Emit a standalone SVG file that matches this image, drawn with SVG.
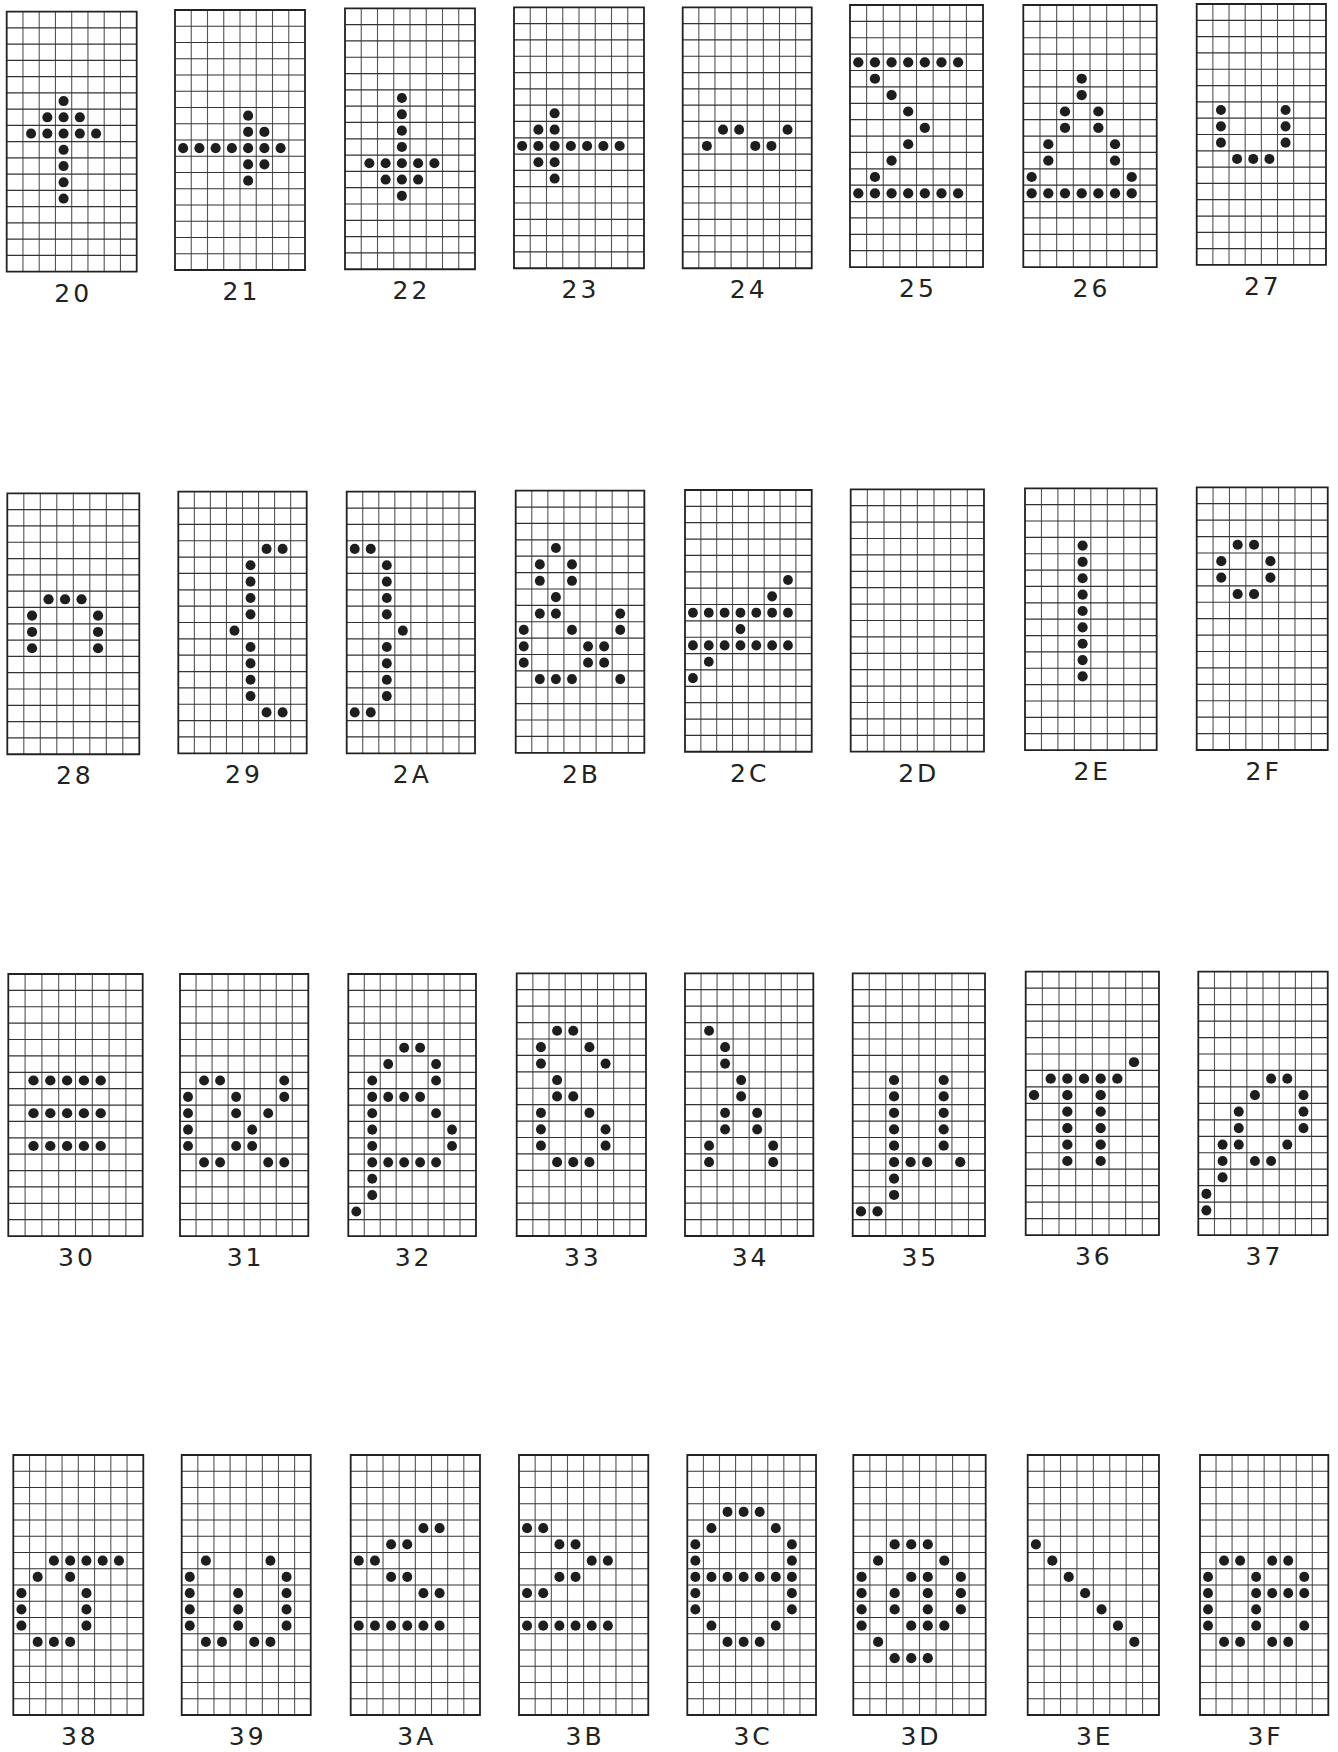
<svg xmlns="http://www.w3.org/2000/svg" xmlns:xlink="http://www.w3.org/1999/xlink" width="1338" height="1752" viewBox="0 0 1338 1752">
<style>
.lb{font-family:"DejaVu Sans","Liberation Sans",sans-serif;font-size:25px;text-anchor:middle;fill:#222;letter-spacing:3px}
.dt circle{fill:#1e1e1e}
</style>
<defs>
<g id="grid" fill="none">
<path d="M1 0V16M2 0V16M3 0V16M4 0V16M5 0V16M6 0V16M7 0V16" stroke="#555" stroke-width="1.1" vector-effect="non-scaling-stroke"/>
<path d="M0 1H8M0 2H8M0 3H8M0 4H8M0 5H8M0 6H8M0 7H8M0 8H8M0 9H8M0 10H8M0 11H8M0 12H8M0 13H8M0 14H8M0 15H8" stroke="#333" stroke-width="1.2" vector-effect="non-scaling-stroke"/>
<rect width="8" height="16" stroke="#222" stroke-width="1.8" vector-effect="non-scaling-stroke"/>
</g>
</defs>
<rect width="1338" height="1752" fill="#fff"/>
<g id="connectors"></g>

<g id="c20"><g class="dt" transform="translate(6.7,11.7) scale(16.25,16.25)"><use href="#grid"/>
<circle cx="3.5" cy="5.5" r=".31"/><circle cx="2.5" cy="6.5" r=".31"/><circle cx="3.5" cy="6.5" r=".31"/><circle cx="4.5" cy="6.5" r=".31"/><circle cx="1.5" cy="7.5" r=".31"/><circle cx="2.5" cy="7.5" r=".31"/><circle cx="3.5" cy="7.5" r=".31"/><circle cx="4.5" cy="7.5" r=".31"/><circle cx="5.5" cy="7.5" r=".31"/><circle cx="3.5" cy="8.5" r=".31"/><circle cx="3.5" cy="9.5" r=".31"/><circle cx="3.5" cy="10.5" r=".31"/><circle cx="3.5" cy="11.5" r=".31"/>
</g><text class="lb" x="73.2" y="301.7">20</text></g>

<g id="c21"><g class="dt" transform="translate(175,10) scale(16.25,16.25)"><use href="#grid"/>
<circle cx="4.5" cy="6.5" r=".31"/><circle cx="4.5" cy="7.5" r=".31"/><circle cx="5.5" cy="7.5" r=".31"/><circle cx="0.5" cy="8.5" r=".31"/><circle cx="1.5" cy="8.5" r=".31"/><circle cx="2.5" cy="8.5" r=".31"/><circle cx="3.5" cy="8.5" r=".31"/><circle cx="4.5" cy="8.5" r=".31"/><circle cx="5.5" cy="8.5" r=".31"/><circle cx="6.5" cy="8.5" r=".31"/><circle cx="4.5" cy="9.5" r=".31"/><circle cx="5.5" cy="9.5" r=".31"/><circle cx="4.5" cy="10.5" r=".31"/>
</g><text class="lb" x="241.5" y="300">21</text></g>

<g id="c22"><g class="dt" transform="translate(345,8.3) scale(16.25,16.31)"><use href="#grid"/>
<circle cx="3.5" cy="5.5" r=".31"/><circle cx="3.5" cy="6.5" r=".31"/><circle cx="3.5" cy="7.5" r=".31"/><circle cx="3.5" cy="8.5" r=".31"/><circle cx="1.5" cy="9.5" r=".31"/><circle cx="2.5" cy="9.5" r=".31"/><circle cx="3.5" cy="9.5" r=".31"/><circle cx="4.5" cy="9.5" r=".31"/><circle cx="5.5" cy="9.5" r=".31"/><circle cx="2.5" cy="10.5" r=".31"/><circle cx="3.5" cy="10.5" r=".31"/><circle cx="4.5" cy="10.5" r=".31"/><circle cx="3.5" cy="11.5" r=".31"/>
</g><text class="lb" x="411.5" y="299.3">22</text></g>

<g id="c23"><g class="dt" transform="translate(514,7.3) scale(16.25,16.31)"><use href="#grid"/>
<circle cx="2.5" cy="6.5" r=".31"/><circle cx="1.5" cy="7.5" r=".31"/><circle cx="2.5" cy="7.5" r=".31"/><circle cx="0.5" cy="8.5" r=".31"/><circle cx="1.5" cy="8.5" r=".31"/><circle cx="2.5" cy="8.5" r=".31"/><circle cx="3.5" cy="8.5" r=".31"/><circle cx="4.5" cy="8.5" r=".31"/><circle cx="5.5" cy="8.5" r=".31"/><circle cx="6.5" cy="8.5" r=".31"/><circle cx="1.5" cy="9.5" r=".31"/><circle cx="2.5" cy="9.5" r=".31"/><circle cx="2.5" cy="10.5" r=".31"/>
</g><text class="lb" x="580.5" y="298.3">23</text></g>

<g id="c24"><g class="dt" transform="translate(682.7,7.3) scale(16.13,16.31)"><use href="#grid"/>
<circle cx="2.5" cy="7.5" r=".31"/><circle cx="3.5" cy="7.5" r=".31"/><circle cx="6.5" cy="7.5" r=".31"/><circle cx="1.5" cy="8.5" r=".31"/><circle cx="4.5" cy="8.5" r=".31"/><circle cx="5.5" cy="8.5" r=".31"/>
</g><text class="lb" x="748.7" y="298.3">24</text></g>

<g id="c25"><g class="dt" transform="translate(850,5) scale(16.63,16.38)"><use href="#grid"/>
<circle cx="0.5" cy="3.5" r=".31"/><circle cx="1.5" cy="3.5" r=".31"/><circle cx="2.5" cy="3.5" r=".31"/><circle cx="3.5" cy="3.5" r=".31"/><circle cx="4.5" cy="3.5" r=".31"/><circle cx="5.5" cy="3.5" r=".31"/><circle cx="6.5" cy="3.5" r=".31"/><circle cx="1.5" cy="4.5" r=".31"/><circle cx="2.5" cy="5.5" r=".31"/><circle cx="3.5" cy="6.5" r=".31"/><circle cx="4.5" cy="7.5" r=".31"/><circle cx="3.5" cy="8.5" r=".31"/><circle cx="2.5" cy="9.5" r=".31"/><circle cx="1.5" cy="10.5" r=".31"/><circle cx="0.5" cy="11.5" r=".31"/><circle cx="1.5" cy="11.5" r=".31"/><circle cx="2.5" cy="11.5" r=".31"/><circle cx="3.5" cy="11.5" r=".31"/><circle cx="4.5" cy="11.5" r=".31"/><circle cx="5.5" cy="11.5" r=".31"/><circle cx="6.5" cy="11.5" r=".31"/>
</g><text class="lb" x="918" y="297">25</text></g>

<g id="c26"><g class="dt" transform="translate(1023.3,5) scale(16.68,16.38)"><use href="#grid"/>
<circle cx="3.5" cy="4.5" r=".31"/><circle cx="3.5" cy="5.5" r=".31"/><circle cx="2.5" cy="6.5" r=".31"/><circle cx="4.5" cy="6.5" r=".31"/><circle cx="2.5" cy="7.5" r=".31"/><circle cx="4.5" cy="7.5" r=".31"/><circle cx="1.5" cy="8.5" r=".31"/><circle cx="5.5" cy="8.5" r=".31"/><circle cx="1.5" cy="9.5" r=".31"/><circle cx="5.5" cy="9.5" r=".31"/><circle cx="0.5" cy="10.5" r=".31"/><circle cx="6.5" cy="10.5" r=".31"/><circle cx="0.5" cy="11.5" r=".31"/><circle cx="1.5" cy="11.5" r=".31"/><circle cx="2.5" cy="11.5" r=".31"/><circle cx="3.5" cy="11.5" r=".31"/><circle cx="4.5" cy="11.5" r=".31"/><circle cx="5.5" cy="11.5" r=".31"/><circle cx="6.5" cy="11.5" r=".31"/>
</g><text class="lb" x="1091.5" y="297">26</text></g>

<g id="c27"><g class="dt" transform="translate(1196.7,4) scale(16.16,16.31)"><use href="#grid"/>
<circle cx="1.5" cy="6.5" r=".31"/><circle cx="5.5" cy="6.5" r=".31"/><circle cx="1.5" cy="7.5" r=".31"/><circle cx="5.5" cy="7.5" r=".31"/><circle cx="1.5" cy="8.5" r=".31"/><circle cx="5.5" cy="8.5" r=".31"/><circle cx="2.5" cy="9.5" r=".31"/><circle cx="3.5" cy="9.5" r=".31"/><circle cx="4.5" cy="9.5" r=".31"/>
</g><text class="lb" x="1262.8" y="295">27</text></g>

<g id="c28"><g class="dt" transform="translate(7.3,493.3) scale(16.5,16.31)"><use href="#grid"/>
<circle cx="2.5" cy="6.5" r=".31"/><circle cx="3.5" cy="6.5" r=".31"/><circle cx="4.5" cy="6.5" r=".31"/><circle cx="1.5" cy="7.5" r=".31"/><circle cx="5.5" cy="7.5" r=".31"/><circle cx="1.5" cy="8.5" r=".31"/><circle cx="5.5" cy="8.5" r=".31"/><circle cx="1.5" cy="9.5" r=".31"/><circle cx="5.5" cy="9.5" r=".31"/>
</g><text class="lb" x="74.8" y="784.3">28</text></g>

<g id="c29"><g class="dt" transform="translate(178.3,491.7) scale(16.05,16.35)"><use href="#grid"/>
<circle cx="5.5" cy="3.5" r=".31"/><circle cx="6.5" cy="3.5" r=".31"/><circle cx="4.5" cy="4.5" r=".31"/><circle cx="4.5" cy="5.5" r=".31"/><circle cx="4.5" cy="6.5" r=".31"/><circle cx="4.5" cy="7.5" r=".31"/><circle cx="3.5" cy="8.5" r=".31"/><circle cx="4.5" cy="9.5" r=".31"/><circle cx="4.5" cy="10.5" r=".31"/><circle cx="4.5" cy="11.5" r=".31"/><circle cx="4.5" cy="12.5" r=".31"/><circle cx="5.5" cy="13.5" r=".31"/><circle cx="6.5" cy="13.5" r=".31"/>
</g><text class="lb" x="244" y="783.3">29</text></g>

<g id="c2A"><g class="dt" transform="translate(346.7,491.7) scale(16.04,16.35)"><use href="#grid"/>
<circle cx="0.5" cy="3.5" r=".31"/><circle cx="1.5" cy="3.5" r=".31"/><circle cx="2.5" cy="4.5" r=".31"/><circle cx="2.5" cy="5.5" r=".31"/><circle cx="2.5" cy="6.5" r=".31"/><circle cx="2.5" cy="7.5" r=".31"/><circle cx="3.5" cy="8.5" r=".31"/><circle cx="2.5" cy="9.5" r=".31"/><circle cx="2.5" cy="10.5" r=".31"/><circle cx="2.5" cy="11.5" r=".31"/><circle cx="2.5" cy="12.5" r=".31"/><circle cx="0.5" cy="13.5" r=".31"/><circle cx="1.5" cy="13.5" r=".31"/>
</g><text class="lb" x="412.3" y="783.3">2A</text></g>

<g id="c2B"><g class="dt" transform="translate(515.7,490.7) scale(16.08,16.38)"><use href="#grid"/>
<circle cx="2.5" cy="3.5" r=".31"/><circle cx="1.5" cy="4.5" r=".31"/><circle cx="3.5" cy="4.5" r=".31"/><circle cx="1.5" cy="5.5" r=".31"/><circle cx="3.5" cy="5.5" r=".31"/><circle cx="2.5" cy="6.5" r=".31"/><circle cx="1.5" cy="7.5" r=".31"/><circle cx="2.5" cy="7.5" r=".31"/><circle cx="6.5" cy="7.5" r=".31"/><circle cx="0.5" cy="8.5" r=".31"/><circle cx="3.5" cy="8.5" r=".31"/><circle cx="6.5" cy="8.5" r=".31"/><circle cx="0.5" cy="9.5" r=".31"/><circle cx="4.5" cy="9.5" r=".31"/><circle cx="5.5" cy="9.5" r=".31"/><circle cx="0.5" cy="10.5" r=".31"/><circle cx="4.5" cy="10.5" r=".31"/><circle cx="5.5" cy="10.5" r=".31"/><circle cx="1.5" cy="11.5" r=".31"/><circle cx="2.5" cy="11.5" r=".31"/><circle cx="3.5" cy="11.5" r=".31"/><circle cx="6.5" cy="11.5" r=".31"/>
</g><text class="lb" x="581.5" y="782.7">2B</text></g>

<g id="c2C"><g class="dt" transform="translate(685,490) scale(15.84,16.36)"><use href="#grid"/>
<circle cx="6.5" cy="5.5" r=".31"/><circle cx="5.5" cy="6.5" r=".31"/><circle cx="0.5" cy="7.5" r=".31"/><circle cx="1.5" cy="7.5" r=".31"/><circle cx="2.5" cy="7.5" r=".31"/><circle cx="3.5" cy="7.5" r=".31"/><circle cx="4.5" cy="7.5" r=".31"/><circle cx="5.5" cy="7.5" r=".31"/><circle cx="6.5" cy="7.5" r=".31"/><circle cx="3.5" cy="8.5" r=".31"/><circle cx="0.5" cy="9.5" r=".31"/><circle cx="1.5" cy="9.5" r=".31"/><circle cx="2.5" cy="9.5" r=".31"/><circle cx="3.5" cy="9.5" r=".31"/><circle cx="4.5" cy="9.5" r=".31"/><circle cx="5.5" cy="9.5" r=".31"/><circle cx="6.5" cy="9.5" r=".31"/><circle cx="1.5" cy="10.5" r=".31"/><circle cx="0.5" cy="11.5" r=".31"/>
</g><text class="lb" x="749.8" y="781.7">2C</text></g>

<g id="c2D"><g class="dt" transform="translate(850.7,489.3) scale(16.66,16.4)"><use href="#grid"/>
</g><text class="lb" x="918.8" y="781.7">2D</text></g>

<g id="c2E"><g class="dt" transform="translate(1025,488.3) scale(16.46,16.36)"><use href="#grid"/>
<circle cx="3.5" cy="3.5" r=".31"/><circle cx="3.5" cy="4.5" r=".31"/><circle cx="3.5" cy="5.5" r=".31"/><circle cx="3.5" cy="6.5" r=".31"/><circle cx="3.5" cy="7.5" r=".31"/><circle cx="3.5" cy="8.5" r=".31"/><circle cx="3.5" cy="9.5" r=".31"/><circle cx="3.5" cy="10.5" r=".31"/><circle cx="3.5" cy="11.5" r=".31"/>
</g><text class="lb" x="1092.3" y="780">2E</text></g>

<g id="c2F"><g class="dt" transform="translate(1196.7,487.3) scale(16.38,16.42)"><use href="#grid"/>
<circle cx="2.5" cy="3.5" r=".31"/><circle cx="3.5" cy="3.5" r=".31"/><circle cx="1.5" cy="4.5" r=".31"/><circle cx="4.5" cy="4.5" r=".31"/><circle cx="1.5" cy="5.5" r=".31"/><circle cx="4.5" cy="5.5" r=".31"/><circle cx="2.5" cy="6.5" r=".31"/><circle cx="3.5" cy="6.5" r=".31"/>
</g><text class="lb" x="1263.7" y="780">2F</text></g>

<g id="c30"><g class="dt" transform="translate(8.3,974) scale(16.8,16.38)"><use href="#grid"/>
<circle cx="1.5" cy="6.5" r=".31"/><circle cx="2.5" cy="6.5" r=".31"/><circle cx="3.5" cy="6.5" r=".31"/><circle cx="4.5" cy="6.5" r=".31"/><circle cx="5.5" cy="6.5" r=".31"/><circle cx="1.5" cy="8.5" r=".31"/><circle cx="2.5" cy="8.5" r=".31"/><circle cx="3.5" cy="8.5" r=".31"/><circle cx="4.5" cy="8.5" r=".31"/><circle cx="5.5" cy="8.5" r=".31"/><circle cx="1.5" cy="10.5" r=".31"/><circle cx="2.5" cy="10.5" r=".31"/><circle cx="3.5" cy="10.5" r=".31"/><circle cx="4.5" cy="10.5" r=".31"/><circle cx="5.5" cy="10.5" r=".31"/>
</g><text class="lb" x="77" y="1266">30</text></g>

<g id="c31"><g class="dt" transform="translate(180,974) scale(16.04,16.38)"><use href="#grid"/>
<circle cx="1.5" cy="6.5" r=".31"/><circle cx="2.5" cy="6.5" r=".31"/><circle cx="6.5" cy="6.5" r=".31"/><circle cx="0.5" cy="7.5" r=".31"/><circle cx="3.5" cy="7.5" r=".31"/><circle cx="6.5" cy="7.5" r=".31"/><circle cx="0.5" cy="8.5" r=".31"/><circle cx="3.5" cy="8.5" r=".31"/><circle cx="5.5" cy="8.5" r=".31"/><circle cx="0.5" cy="9.5" r=".31"/><circle cx="4.5" cy="9.5" r=".31"/><circle cx="0.5" cy="10.5" r=".31"/><circle cx="3.5" cy="10.5" r=".31"/><circle cx="4.5" cy="10.5" r=".31"/><circle cx="1.5" cy="11.5" r=".31"/><circle cx="2.5" cy="11.5" r=".31"/><circle cx="5.5" cy="11.5" r=".31"/><circle cx="6.5" cy="11.5" r=".31"/>
</g><text class="lb" x="245.6" y="1266">31</text></g>

<g id="c32"><g class="dt" transform="translate(348.3,974) scale(15.96,16.38)"><use href="#grid"/>
<circle cx="3.5" cy="4.5" r=".31"/><circle cx="4.5" cy="4.5" r=".31"/><circle cx="2.5" cy="5.5" r=".31"/><circle cx="5.5" cy="5.5" r=".31"/><circle cx="1.5" cy="6.5" r=".31"/><circle cx="5.5" cy="6.5" r=".31"/><circle cx="1.5" cy="7.5" r=".31"/><circle cx="2.5" cy="7.5" r=".31"/><circle cx="3.5" cy="7.5" r=".31"/><circle cx="4.5" cy="7.5" r=".31"/><circle cx="1.5" cy="8.5" r=".31"/><circle cx="5.5" cy="8.5" r=".31"/><circle cx="1.5" cy="9.5" r=".31"/><circle cx="6.5" cy="9.5" r=".31"/><circle cx="1.5" cy="10.5" r=".31"/><circle cx="6.5" cy="10.5" r=".31"/><circle cx="1.5" cy="11.5" r=".31"/><circle cx="2.5" cy="11.5" r=".31"/><circle cx="3.5" cy="11.5" r=".31"/><circle cx="4.5" cy="11.5" r=".31"/><circle cx="5.5" cy="11.5" r=".31"/><circle cx="1.5" cy="12.5" r=".31"/><circle cx="1.5" cy="13.5" r=".31"/><circle cx="0.5" cy="14.5" r=".31"/>
</g><text class="lb" x="413.6" y="1266">32</text></g>

<g id="c33"><g class="dt" transform="translate(516.7,973.3) scale(16.16,16.42)"><use href="#grid"/>
<circle cx="2.5" cy="3.5" r=".31"/><circle cx="3.5" cy="3.5" r=".31"/><circle cx="1.5" cy="4.5" r=".31"/><circle cx="4.5" cy="4.5" r=".31"/><circle cx="1.5" cy="5.5" r=".31"/><circle cx="5.5" cy="5.5" r=".31"/><circle cx="2.5" cy="6.5" r=".31"/><circle cx="2.5" cy="7.5" r=".31"/><circle cx="3.5" cy="7.5" r=".31"/><circle cx="1.5" cy="8.5" r=".31"/><circle cx="4.5" cy="8.5" r=".31"/><circle cx="1.5" cy="9.5" r=".31"/><circle cx="5.5" cy="9.5" r=".31"/><circle cx="1.5" cy="10.5" r=".31"/><circle cx="5.5" cy="10.5" r=".31"/><circle cx="2.5" cy="11.5" r=".31"/><circle cx="3.5" cy="11.5" r=".31"/><circle cx="4.5" cy="11.5" r=".31"/>
</g><text class="lb" x="582.8" y="1266">33</text></g>

<g id="c34"><g class="dt" transform="translate(685,973.3) scale(16.04,16.42)"><use href="#grid"/>
<circle cx="1.5" cy="3.5" r=".31"/><circle cx="2.5" cy="4.5" r=".31"/><circle cx="2.5" cy="5.5" r=".31"/><circle cx="3.5" cy="6.5" r=".31"/><circle cx="3.5" cy="7.5" r=".31"/><circle cx="2.5" cy="8.5" r=".31"/><circle cx="4.5" cy="8.5" r=".31"/><circle cx="2.5" cy="9.5" r=".31"/><circle cx="4.5" cy="9.5" r=".31"/><circle cx="1.5" cy="10.5" r=".31"/><circle cx="5.5" cy="10.5" r=".31"/><circle cx="1.5" cy="11.5" r=".31"/><circle cx="5.5" cy="11.5" r=".31"/>
</g><text class="lb" x="750.6" y="1266">34</text></g>

<g id="c35"><g class="dt" transform="translate(852.7,973.3) scale(16.54,16.42)"><use href="#grid"/>
<circle cx="2.5" cy="6.5" r=".31"/><circle cx="5.5" cy="6.5" r=".31"/><circle cx="2.5" cy="7.5" r=".31"/><circle cx="5.5" cy="7.5" r=".31"/><circle cx="2.5" cy="8.5" r=".31"/><circle cx="5.5" cy="8.5" r=".31"/><circle cx="2.5" cy="9.5" r=".31"/><circle cx="5.5" cy="9.5" r=".31"/><circle cx="2.5" cy="10.5" r=".31"/><circle cx="5.5" cy="10.5" r=".31"/><circle cx="2.5" cy="11.5" r=".31"/><circle cx="3.5" cy="11.5" r=".31"/><circle cx="4.5" cy="11.5" r=".31"/><circle cx="6.5" cy="11.5" r=".31"/><circle cx="2.5" cy="12.5" r=".31"/><circle cx="2.5" cy="13.5" r=".31"/><circle cx="0.5" cy="14.5" r=".31"/><circle cx="1.5" cy="14.5" r=".31"/>
</g><text class="lb" x="920.3" y="1266">35</text></g>

<g id="c36"><g class="dt" transform="translate(1025.7,971.7) scale(16.66,16.46)"><use href="#grid"/>
<circle cx="6.5" cy="5.5" r=".31"/><circle cx="1.5" cy="6.5" r=".31"/><circle cx="2.5" cy="6.5" r=".31"/><circle cx="3.5" cy="6.5" r=".31"/><circle cx="4.5" cy="6.5" r=".31"/><circle cx="5.5" cy="6.5" r=".31"/><circle cx="0.5" cy="7.5" r=".31"/><circle cx="2.5" cy="7.5" r=".31"/><circle cx="4.5" cy="7.5" r=".31"/><circle cx="2.5" cy="8.5" r=".31"/><circle cx="4.5" cy="8.5" r=".31"/><circle cx="2.5" cy="9.5" r=".31"/><circle cx="4.5" cy="9.5" r=".31"/><circle cx="2.5" cy="10.5" r=".31"/><circle cx="4.5" cy="10.5" r=".31"/><circle cx="2.5" cy="11.5" r=".31"/><circle cx="4.5" cy="11.5" r=".31"/>
</g><text class="lb" x="1093.8" y="1265">36</text></g>

<g id="c37"><g class="dt" transform="translate(1198.3,971.7) scale(16.18,16.46)"><use href="#grid"/>
<circle cx="4.5" cy="6.5" r=".31"/><circle cx="5.5" cy="6.5" r=".31"/><circle cx="3.5" cy="7.5" r=".31"/><circle cx="6.5" cy="7.5" r=".31"/><circle cx="2.5" cy="8.5" r=".31"/><circle cx="6.5" cy="8.5" r=".31"/><circle cx="2.5" cy="9.5" r=".31"/><circle cx="6.5" cy="9.5" r=".31"/><circle cx="1.5" cy="10.5" r=".31"/><circle cx="2.5" cy="10.5" r=".31"/><circle cx="5.5" cy="10.5" r=".31"/><circle cx="1.5" cy="11.5" r=".31"/><circle cx="3.5" cy="11.5" r=".31"/><circle cx="4.5" cy="11.5" r=".31"/><circle cx="1.5" cy="12.5" r=".31"/><circle cx="0.5" cy="13.5" r=".31"/><circle cx="0.5" cy="14.5" r=".31"/>
</g><text class="lb" x="1264.5" y="1265">37</text></g>

<g id="c38"><g class="dt" transform="translate(13.3,1455) scale(16.25,16.25)"><use href="#grid"/>
<circle cx="2.5" cy="6.5" r=".31"/><circle cx="3.5" cy="6.5" r=".31"/><circle cx="4.5" cy="6.5" r=".31"/><circle cx="5.5" cy="6.5" r=".31"/><circle cx="6.5" cy="6.5" r=".31"/><circle cx="1.5" cy="7.5" r=".31"/><circle cx="3.5" cy="7.5" r=".31"/><circle cx="0.5" cy="8.5" r=".31"/><circle cx="4.5" cy="8.5" r=".31"/><circle cx="0.5" cy="9.5" r=".31"/><circle cx="4.5" cy="9.5" r=".31"/><circle cx="0.5" cy="10.5" r=".31"/><circle cx="4.5" cy="10.5" r=".31"/><circle cx="1.5" cy="11.5" r=".31"/><circle cx="2.5" cy="11.5" r=".31"/><circle cx="3.5" cy="11.5" r=".31"/>
</g><text class="lb" x="79.8" y="1745">38</text></g>

<g id="c39"><g class="dt" transform="translate(181.7,1455) scale(16.13,16.25)"><use href="#grid"/>
<circle cx="1.5" cy="6.5" r=".31"/><circle cx="5.5" cy="6.5" r=".31"/><circle cx="0.5" cy="7.5" r=".31"/><circle cx="6.5" cy="7.5" r=".31"/><circle cx="0.5" cy="8.5" r=".31"/><circle cx="3.5" cy="8.5" r=".31"/><circle cx="6.5" cy="8.5" r=".31"/><circle cx="0.5" cy="9.5" r=".31"/><circle cx="3.5" cy="9.5" r=".31"/><circle cx="6.5" cy="9.5" r=".31"/><circle cx="0.5" cy="10.5" r=".31"/><circle cx="3.5" cy="10.5" r=".31"/><circle cx="6.5" cy="10.5" r=".31"/><circle cx="1.5" cy="11.5" r=".31"/><circle cx="2.5" cy="11.5" r=".31"/><circle cx="4.5" cy="11.5" r=".31"/><circle cx="5.5" cy="11.5" r=".31"/>
</g><text class="lb" x="247.7" y="1745">39</text></g>

<g id="c3A"><g class="dt" transform="translate(350.7,1455) scale(16.16,16.25)"><use href="#grid"/>
<circle cx="4.5" cy="4.5" r=".31"/><circle cx="5.5" cy="4.5" r=".31"/><circle cx="2.5" cy="5.5" r=".31"/><circle cx="3.5" cy="5.5" r=".31"/><circle cx="0.5" cy="6.5" r=".31"/><circle cx="1.5" cy="6.5" r=".31"/><circle cx="2.5" cy="7.5" r=".31"/><circle cx="3.5" cy="7.5" r=".31"/><circle cx="4.5" cy="8.5" r=".31"/><circle cx="5.5" cy="8.5" r=".31"/><circle cx="0.5" cy="10.5" r=".31"/><circle cx="1.5" cy="10.5" r=".31"/><circle cx="2.5" cy="10.5" r=".31"/><circle cx="3.5" cy="10.5" r=".31"/><circle cx="4.5" cy="10.5" r=".31"/><circle cx="5.5" cy="10.5" r=".31"/>
</g><text class="lb" x="416.8" y="1745">3A</text></g>

<g id="c3B"><g class="dt" transform="translate(519,1455) scale(16.16,16.25)"><use href="#grid"/>
<circle cx="0.5" cy="4.5" r=".31"/><circle cx="1.5" cy="4.5" r=".31"/><circle cx="2.5" cy="5.5" r=".31"/><circle cx="3.5" cy="5.5" r=".31"/><circle cx="4.5" cy="6.5" r=".31"/><circle cx="5.5" cy="6.5" r=".31"/><circle cx="2.5" cy="7.5" r=".31"/><circle cx="3.5" cy="7.5" r=".31"/><circle cx="0.5" cy="8.5" r=".31"/><circle cx="1.5" cy="8.5" r=".31"/><circle cx="0.5" cy="10.5" r=".31"/><circle cx="1.5" cy="10.5" r=".31"/><circle cx="2.5" cy="10.5" r=".31"/><circle cx="3.5" cy="10.5" r=".31"/><circle cx="4.5" cy="10.5" r=".31"/><circle cx="5.5" cy="10.5" r=".31"/>
</g><text class="lb" x="585.1" y="1745">3B</text></g>

<g id="c3C"><g class="dt" transform="translate(687.3,1455) scale(16.09,16.25)"><use href="#grid"/>
<circle cx="2.5" cy="3.5" r=".31"/><circle cx="3.5" cy="3.5" r=".31"/><circle cx="4.5" cy="3.5" r=".31"/><circle cx="1.5" cy="4.5" r=".31"/><circle cx="5.5" cy="4.5" r=".31"/><circle cx="0.5" cy="5.5" r=".31"/><circle cx="6.5" cy="5.5" r=".31"/><circle cx="0.5" cy="6.5" r=".31"/><circle cx="6.5" cy="6.5" r=".31"/><circle cx="0.5" cy="7.5" r=".31"/><circle cx="1.5" cy="7.5" r=".31"/><circle cx="2.5" cy="7.5" r=".31"/><circle cx="3.5" cy="7.5" r=".31"/><circle cx="4.5" cy="7.5" r=".31"/><circle cx="5.5" cy="7.5" r=".31"/><circle cx="6.5" cy="7.5" r=".31"/><circle cx="0.5" cy="8.5" r=".31"/><circle cx="6.5" cy="8.5" r=".31"/><circle cx="0.5" cy="9.5" r=".31"/><circle cx="6.5" cy="9.5" r=".31"/><circle cx="1.5" cy="10.5" r=".31"/><circle cx="5.5" cy="10.5" r=".31"/><circle cx="2.5" cy="11.5" r=".31"/><circle cx="3.5" cy="11.5" r=".31"/><circle cx="4.5" cy="11.5" r=".31"/>
</g><text class="lb" x="753.1" y="1745">3C</text></g>

<g id="c3D"><g class="dt" transform="translate(853.3,1455) scale(16.55,16.25)"><use href="#grid"/>
<circle cx="2.5" cy="5.5" r=".31"/><circle cx="3.5" cy="5.5" r=".31"/><circle cx="4.5" cy="5.5" r=".31"/><circle cx="1.5" cy="6.5" r=".31"/><circle cx="5.5" cy="6.5" r=".31"/><circle cx="0.5" cy="7.5" r=".31"/><circle cx="3.5" cy="7.5" r=".31"/><circle cx="4.5" cy="7.5" r=".31"/><circle cx="6.5" cy="7.5" r=".31"/><circle cx="0.5" cy="8.5" r=".31"/><circle cx="2.5" cy="8.5" r=".31"/><circle cx="4.5" cy="8.5" r=".31"/><circle cx="6.5" cy="8.5" r=".31"/><circle cx="0.5" cy="9.5" r=".31"/><circle cx="2.5" cy="9.5" r=".31"/><circle cx="4.5" cy="9.5" r=".31"/><circle cx="6.5" cy="9.5" r=".31"/><circle cx="0.5" cy="10.5" r=".31"/><circle cx="3.5" cy="10.5" r=".31"/><circle cx="4.5" cy="10.5" r=".31"/><circle cx="5.5" cy="10.5" r=".31"/><circle cx="1.5" cy="11.5" r=".31"/><circle cx="2.5" cy="12.5" r=".31"/><circle cx="3.5" cy="12.5" r=".31"/><circle cx="4.5" cy="12.5" r=".31"/>
</g><text class="lb" x="921" y="1745">3D</text></g>

<g id="c3E"><g class="dt" transform="translate(1027.7,1455) scale(16.41,16.25)"><use href="#grid"/>
<circle cx="0.5" cy="5.5" r=".31"/><circle cx="1.5" cy="6.5" r=".31"/><circle cx="2.5" cy="7.5" r=".31"/><circle cx="3.5" cy="8.5" r=".31"/><circle cx="4.5" cy="9.5" r=".31"/><circle cx="5.5" cy="10.5" r=".31"/><circle cx="6.5" cy="11.5" r=".31"/>
</g><text class="lb" x="1094.8" y="1745">3E</text></g>

<g id="c3F"><g class="dt" transform="translate(1200,1455) scale(16.04,16.25)"><use href="#grid"/>
<circle cx="1.5" cy="6.5" r=".31"/><circle cx="2.5" cy="6.5" r=".31"/><circle cx="4.5" cy="6.5" r=".31"/><circle cx="5.5" cy="6.5" r=".31"/><circle cx="0.5" cy="7.5" r=".31"/><circle cx="3.5" cy="7.5" r=".31"/><circle cx="6.5" cy="7.5" r=".31"/><circle cx="0.5" cy="8.5" r=".31"/><circle cx="3.5" cy="8.5" r=".31"/><circle cx="4.5" cy="8.5" r=".31"/><circle cx="5.5" cy="8.5" r=".31"/><circle cx="6.5" cy="8.5" r=".31"/><circle cx="0.5" cy="9.5" r=".31"/><circle cx="3.5" cy="9.5" r=".31"/><circle cx="0.5" cy="10.5" r=".31"/><circle cx="3.5" cy="10.5" r=".31"/><circle cx="6.5" cy="10.5" r=".31"/><circle cx="1.5" cy="11.5" r=".31"/><circle cx="2.5" cy="11.5" r=".31"/><circle cx="4.5" cy="11.5" r=".31"/><circle cx="5.5" cy="11.5" r=".31"/>
</g><text class="lb" x="1265.6" y="1745">3F</text></g>
</svg>
